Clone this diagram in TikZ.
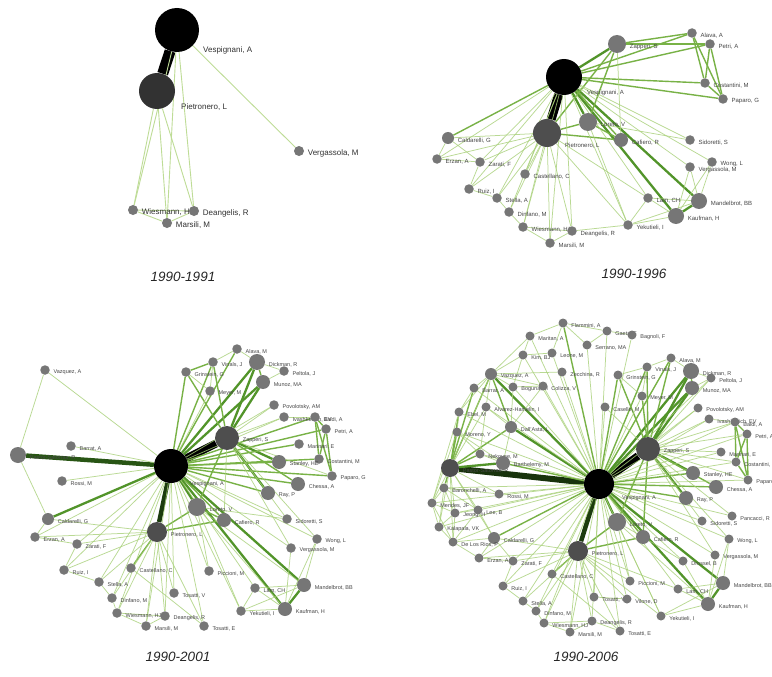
\documentclass[tikz,border=0pt]{standalone}
\usepackage{fontspec}
\setmainfont{Liberation Sans}
\usetikzlibrary{backgrounds,calc}
\definecolor{ga}{RGB}{190,220,150}
\definecolor{g1}{RGB}{168,208,120}
\definecolor{g2}{RGB}{120,178,70}
\definecolor{g3}{RGB}{82,148,42}
\definecolor{g4}{RGB}{40,85,20}
\definecolor{ndg}{RGB}{118,118,118}
\definecolor{ndd}{RGB}{78,78,78}
\definecolor{ndk}{RGB}{50,50,50}
\definecolor{lblc}{RGB}{70,70,70}
\tikzset{
 nd/.style={circle,fill=ndg,inner sep=0,minimum size=9.5pt},
 lbl/.style={anchor=west,inner sep=0,text=lblc,font=\fontsize{5.5}{5.5}\selectfont},
 ea/.style={draw=ga,line width=0.9pt},
 e1/.style={draw=g1,line width=0.75pt,opacity=0.8},
 e2/.style={draw=g2,line width=1.4pt},
 e3/.style={draw=g3,line width=2.3pt},
 e4/.style={draw=g4,line width=4.5pt},
 ek/.style={draw=black,line width=8pt},
 yr/.style={font=\fontsize{13.5}{13.5}\selectfont\itshape,text=black!85,inner sep=0}
}
\newcommand\gnode[5][]{\node[nd,#1] (#2) at (#3,#4) {};\node[lbl] (#2-t) at ([shift={(3.5,2.5)}]#2.east) {#5};}
\begin{document}
\begin{tikzpicture}[x=1pt,y=-1pt]
\begin{scope}[on background layer]
\fill[white] (0,0) rectangle (772,677);
\end{scope}
\useasboundingbox (0,0) rectangle (772,677);

%================ Panel 1 : 1990-1991 ================
\begin{scope}[lbl/.append style={font=\fontsize{8}{8}\selectfont,text=ndk}, nd/.append style={minimum size=10pt}]
\node[nd,fill=black,minimum size=44pt] (aV) at (177,30) {};
\node[lbl] (aV-t) at (203,50) {Vespignani, A};
\node[nd,fill=ndk,minimum size=36pt] (aP) at (157,91) {};
\node[lbl] (aP-t) at (181,107) {Pietronero, L};
\gnode{aVe}{299}{151}{Vergassola, M}
\gnode{aWi}{133}{210}{Wiesmann, HJ}
\gnode{aDe}{194}{211}{Deangelis, R}
\gnode{aMa}{167}{223}{Marsili, M}
\end{scope}
\node[yr] (ya) at (183,277) {1990-1991};
\begin{scope}[on background layer]
\draw[ek,line width=11pt] (aV) -- (aP);
\foreach \a/\b in {aV/aVe,aV/aMa,aV/aDe,aV/aWi,aP/aWi,aP/aMa,aP/aDe,aWi/aMa,aMa/aDe,aWi/aDe}
  \draw[ea] (\a) -- (\b);
\end{scope}

%================ Panel 2 : 1990-1996 ================
\begin{scope}[lbl/.append style={font=\fontsize{6}{6}\selectfont}]
\node[nd,fill=black,minimum size=36pt] (bV) at (564,77) {};
\node[lbl] (bV-t) at (587,93) {Vespignani, A};
\node[nd,fill=ndd,minimum size=28pt] (bP) at (547,133) {};
\node[lbl] (bP-t) at (565,146) {Pietronero, L};
\gnode[minimum size=18pt]{bLo}{588}{122}{Loreto, V}
\gnode[minimum size=18pt]{bZa}{617}{44}{Zapperi, S}
\gnode[minimum size=12pt]{bCa}{448}{138}{Caldarelli, G}
\gnode{bEr}{437}{159}{Erzan, A}
\gnode{bZr}{480}{162}{Zarati, F}
\gnode{bCs}{525}{174}{Castellano, C}
\gnode{bRu}{469}{189}{Ruiz, I}
\gnode{bSt}{497}{198}{Stella, A}
\gnode{bDi}{509}{212}{Dinfano, M}
\gnode{bWi}{523}{227}{Wiesmann, HJ}
\gnode{bDe}{572}{231}{Deangelis, R}
\gnode{bMa}{550}{243}{Marsili, M}
\gnode{bVe}{690}{167}{Vergassola, M}
\gnode{bWo}{712}{162}{Wong, L}
\gnode{bLa}{648}{198}{Lam, CH}
\gnode[minimum size=16pt]{bMb}{699}{201}{Mandelbrot, BB}
\gnode[minimum size=16pt]{bKa}{676}{216}{Kaufman, H}
\gnode{bYe}{628}{225}{Yekutieli, I}
\gnode{bAl}{692}{33}{Alava, A}
\gnode{bPe}{710}{44}{Petri, A}
\gnode{bCo}{705}{83}{Costantini, M}
\gnode{bPa}{723}{99}{Paparo, G}
\gnode[minimum size=14pt]{bCf}{621}{140}{Cafiero, R}
\gnode{bSi}{690}{140}{Sidoretti, S}
\end{scope}
\node[yr] (yb) at (634,274) {1990-1996};
\begin{scope}[on background layer]
\draw[ek,line width=9pt] (bV) -- (bP);
\foreach \a/\b in {bV/bZa,bV/bLo,bV/bMb,bV/bKa,bMb/bKa}
  \draw[e3] (\a) -- (\b);
\foreach \a/\b in {bV/bCa,bV/bCf,bV/bAl,bV/bPe,bV/bCo,bV/bPa,bZa/bAl,bZa/bPe,bAl/bCo,bAl/bPa,bPe/bCo,bPe/bPa,bCo/bPa,bP/bLo,bP/bCf,bLo/bCf,bZa/bLo,bZa/bP}
  \draw[e2] (\a) -- (\b);
\foreach \b in {bEr,bZr,bCs,bRu,bSt,bDi,bWi,bDe,bMa,bSi,bVe,bWo,bLa,bYe}
  \draw[e1] (bV) -- (\b);
\foreach \b in {bCa,bEr,bZr,bCs,bRu,bSt,bDi,bWi,bDe,bMa,bYe,bLa}
  \draw[e1] (bP) -- (\b);
\foreach \a/\b in {bZa/bCf,bLa/bKa,bLa/bMb,bYe/bKa,bYe/bMb,bYe/bLa,bWo/bKa,bWo/bMb,bVe/bKa,bVe/bMb,bCa/bEr,bEr/bZr,bCa/bZr,bZr/bRu,bRu/bSt,bSt/bDi,bDi/bWi,bWi/bMa,bMa/bDe,bWi/bDe,bYe/bDe,bLo/bSi,bLo/bYe}
  \draw[e1] (\a) -- (\b);
\end{scope}

%================ Panel 3 : 1990-2001 ================
\begin{scope}
\node[nd,fill=black,minimum size=34pt] (cV) at (171,466) {};
\node[lbl] (cV-t) at (190,484) {Vespignani, A};
\gnode[fill=ndd,minimum size=24pt]{cZa}{227}{438}{Zapperi, S}
\gnode[fill=ndd,minimum size=20pt]{cP}{157}{532}{Pietronero, L}
\gnode[minimum size=16pt]{cPS}{18}{455}{Pastor-Satorras, R}
\gnode{cVz}{45}{370}{Vazquez, A}
\gnode{cBa}{71}{446}{Barrat, A}
\gnode{cRo}{62}{481}{Rossi, M}
\gnode[minimum size=12pt]{cCa}{48}{519}{Caldarelli, G}
\gnode{cEr}{35}{537}{Erzan, A}
\gnode{cZr}{77}{544}{Zarati, F}
\gnode{cRu}{64}{570}{Ruiz, I}
\gnode{cCs}{131}{568}{Castellano, C}
\gnode{cSt}{99}{582}{Stella, A}
\gnode{cDi}{112}{598}{Dinfano, M}
\gnode{cWi}{117}{613}{Wiesmann, HJ}
\gnode{cDe}{165}{616}{Deangelis, R}
\gnode{cMa}{146}{626}{Marsili, M}
\gnode{cTV}{174}{593}{Tosatti, V}
\gnode[minimum size=18pt]{cLo}{197}{507}{Loreto, V}
\gnode[minimum size=14pt]{cCf}{224}{520}{Cafiero, R}
\gnode{cSi}{287}{519}{Sidoretti, S}
\gnode{cWo}{317}{539}{Wong, L}
\gnode{cVe}{291}{548}{Vergassola, M}
\gnode{cPi}{209}{571}{Piccioni, M}
\gnode{cLa}{255}{588}{Lam, CH}
\gnode[minimum size=14pt]{cMb}{304}{585}{Mandelbrot, BB}
\gnode[minimum size=14pt]{cKa}{285}{609}{Kaufman, H}
\gnode{cYe}{241}{611}{Yekutieli, I}
\gnode{cTE}{204}{626}{Tosatti, E}
\gnode[minimum size=14pt]{cRa}{268}{493}{Ray, P}
\gnode[minimum size=14pt]{cCh}{298}{484}{Chessa, A}
\gnode{cPa}{332}{476}{Paparo, G}
\gnode{cAl}{237}{349}{Alava, M}
\gnode{cVi}{213}{362}{Vinals, J}
\gnode{cGr}{186}{372}{Grinstein, G}
\gnode[minimum size=16pt]{cDk}{257}{362}{Dickman, R}
\gnode{cPl}{284}{371}{Peltola, J}
\gnode[minimum size=14pt]{cMu}{263}{382}{Munoz, MA}
\gnode{cMo}{210}{391}{Meyer, M}
\gnode{cPv}{274}{405}{Povolotsky, AM}
\gnode{cIv}{284}{417}{Ivashkevich, EV}
\gnode{cBd}{315}{417}{Baldi, A}
\gnode{cPe}{326}{429}{Petri, A}
\gnode{cMr}{299}{444}{Marinari, E}
\gnode{cCo}{319}{459}{Costantini, M}
\gnode[minimum size=14pt]{cSn}{279}{462}{Stanley, HE}
\end{scope}
\node[yr] (yc) at (178,657) {1990-2001};
\begin{scope}[on background layer]
\draw[ek] (cV) -- (cZa);
\draw[e4,draw=g4!70!black] (cV) -- (cP);
\draw[e4] (cV) -- (cPS);
\foreach \a/\b in {cV/cLo,cV/cDk,cV/cMu,cZa/cDk,cZa/cMu,cZa/cSn,cZa/cRa,cV/cMb,cV/cKa,cV/cCa,cMb/cKa}
  \draw[e3] (\a) -- (\b);
\foreach \a/\b in {cV/cAl,cV/cVi,cV/cGr,cZa/cVi,cZa/cGr,cDk/cMu,cGr/cVi,cV/cBd,cV/cPe,cV/cMr,cV/cCo,cV/cSn,cV/cPa,cV/cCh,cV/cRa,cZa/cCh,cBd/cPe,cBd/cCo,cBd/cPa,cPe/cCo,cPe/cPa,cLo/cCf,cV/cCf,cP/cCf,cLo/cP,cZa/cLo,cP/cCs}
  \draw[e2] (\a) -- (\b);
\foreach \b in {cVz,cBa,cRo,cEr,cZr,cRu,cSt,cDi,cWi,cMa,cDe,cTV,cTE,cSi,cWo,cVe,cLa,cYe,cPi,cMo,cPv,cIv}
  \draw[e1] (cV) -- (\b);
\foreach \b in {cCa,cEr,cZr,cRu,cSt,cDi,cWi,cMa,cDe,cTE,cTV}
  \draw[e1] (cP) -- (\b);
\foreach \a/\b in {cVz/cPS,cPS/cCa,cVi/cAl,cDk/cPl,cMu/cPl,cDk/cAl,cGr/cMo,cVi/cMo,cZa/cPv,cZa/cIv,cIv/cBd,cZa/cCf,cLa/cKa,cLa/cMb,cYe/cKa,cYe/cMb,cYe/cLa,cWo/cKa,cWo/cMb,cVe/cKa,cCa/cEr,cEr/cZr,cZr/cRu,cRu/cSt,cSt/cDi,cDi/cWi,cWi/cMa,cMa/cDe,cWi/cDe,cPi/cLo,cZa/cSi,cLo/cSi,cZa/cWo,cZa/cVe,cLo/cMb,cLo/cKa,cLo/cYe,cZa/cPa,cCs/cTE}
  \draw[e1] (\a) -- (\b);
\end{scope}

%================ Panel 4 : 1990-2006 ================
\begin{scope}[nd/.append style={minimum size=9pt}]
\node[nd,fill=black,minimum size=30pt] (dV) at (599,484) {};
\node[lbl] (dV-t) at (622,498) {Vespignani, A};
\gnode[fill=ndd,minimum size=24pt]{dZa}{648}{449}{Zapperi, S}
\gnode[fill=ndd,minimum size=20pt]{dP}{578}{551}{Pietronero, L}
\gnode[fill=ndd,minimum size=18pt]{dPS}{450}{468}{Pastor-Satorras, R}
\gnode{dFl}{563}{323}{Flammini, A}
\gnode{dMt}{530}{336}{Maritan, A}
\gnode{dKi}{523}{355}{Kim, BJ}
\gnode{dLe}{552}{353}{Leone, M}
\gnode{dZe}{562}{372}{Zecchina, R}
\gnode[minimum size=12pt]{dVz}{491}{374}{Vazquez, A}
\gnode{dBr}{474}{388}{Barrat, A}
\gnode{dBo}{513}{387}{Boguna, M}
\gnode{dCz}{543}{386}{Colizza, V}
\gnode{dEb}{459}{412}{Ebel, M}
\gnode{dAH}{486}{407}{Alvarez-Hamelin, I}
\gnode{dMo}{457}{432}{Moreno, Y}
\gnode[minimum size=12pt]{dDA}{511}{427}{Dall'Asta, L}
\gnode{dNe}{480}{454}{Nekovee, M}
\gnode[minimum size=14pt]{dBt}{503}{463}{Barthelemy, M}
\gnode{dGa}{607}{331}{Gaeta, F}
\gnode{dBg}{632}{335}{Bagnoli, F}
\gnode{dSe}{587}{345}{Serrano, MA}
\gnode{dAl}{671}{358}{Alava, M}
\gnode{dVi}{647}{367}{Vinals, J}
\gnode{dGr}{618}{375}{Grinstein, G}
\gnode[minimum size=16pt]{dDk}{691}{371}{Dickman, R}
\gnode{dPl}{711}{378}{Peltola, J}
\gnode[minimum size=14pt]{dMu}{692}{388}{Munoz, MA}
\gnode{dMe}{642}{396}{Meyer, M}
\gnode{dCe}{605}{407}{Caselle, M}
\gnode{dPv}{698}{408}{Povolotsky, AM}
\gnode{dIv}{709}{419}{Ivashkevich, EV}
\gnode{dBd}{735}{422}{Baldi, A}
\gnode{dPe}{747}{434}{Petri, A}
\gnode{dMr}{721}{452}{Marinari, E}
\gnode{dCo}{736}{462}{Costantini, M}
\gnode[minimum size=14pt]{dSn}{693}{473}{Stanley, HE}
\gnode{dPa}{748}{480}{Paparo, G}
\gnode[minimum size=14pt]{dCh}{716}{487}{Chessa, A}
\gnode[minimum size=14pt]{dRa}{686}{498}{Ray, P}
\gnode{dPc}{732}{516}{Pancacci, R}
\gnode{dSi}{702}{521}{Sidoretti, S}
\gnode[minimum size=18pt]{dLo}{617}{522}{Loreto, V}
\gnode[minimum size=14pt]{dCf}{643}{537}{Cafiero, R}
\gnode{dWo}{729}{539}{Wong, L}
\gnode{dVe}{715}{555}{Vergassola, M}
\gnode{dDr}{683}{561}{Drossel, B}
\gnode[minimum size=12pt]{dCa}{494}{538}{Caldarelli, G}
\gnode{dEr}{479}{558}{Erzan, A}
\gnode{dZr}{513}{561}{Zarati, F}
\gnode{dCs}{552}{574}{Castellano, C}
\gnode{dRu}{503}{586}{Ruiz, I}
\gnode{dPi}{630}{581}{Piccioni, M}
\gnode{dLa}{678}{589}{Lam, CH}
\gnode[minimum size=14pt]{dMb}{723}{583}{Mandelbrot, BB}
\gnode[minimum size=14pt]{dKa}{708}{604}{Kaufman, H}
\gnode{dSt}{523}{601}{Stella, A}
\gnode{dDi}{536}{611}{Dinfano, M}
\gnode{dTV}{594}{597}{Tosatti, V}
\gnode{dVl}{627}{599}{Vilone, D}
\gnode{dYe}{661}{616}{Yekutieli, I}
\gnode{dWi}{544}{623}{Wiesmann, HJ}
\gnode{dDe}{592}{621}{Deangelis, R}
\gnode{dMa}{570}{632}{Marsili, M}
\gnode{dTE}{620}{631}{Tosatti, E}
\gnode{dBc}{444}{488}{Baronchelli, A}
\gnode{dRo}{499}{494}{Rossi, M}
\gnode{dMd}{432}{503}{Mendes, JF}
\gnode{dJe}{455}{513}{Jeong, H}
\gnode{dLb}{478}{510}{Lee, B}
\gnode{dKl}{439}{527}{Kalapala, VK}
\gnode{dDL}{453}{542}{De Los Rios, P}
\end{scope}
\node[yr] (yd) at (586,657) {1990-2006};
\begin{scope}[on background layer]
\draw[ek] (dV) -- (dZa);
\draw[e4,line width=6pt,draw=g4!60!black] (dV) -- (dPS);
\draw[e4,draw=g4!70!black] (dV) -- (dP);
\foreach \a/\b in {dV/dLo,dV/dDk,dV/dMu,dV/dMb,dV/dKa,dV/dVz,dV/dDA,dZa/dDk,dZa/dMu,dZa/dSn,dZa/dRa,dPS/dBt,dMb/dKa}
  \draw[e3] (\a) -- (\b);
\foreach \a/\b in {dV/dCa,dV/dCf,dV/dCh,dV/dRa,dV/dSn,dV/dAl,dV/dVi,dV/dGr,dV/dBt,dV/dFl,dZa/dCh,dZa/dAl,dZa/dVi,dZa/dGr,dZa/dMe,dZa/dLo,dZa/dCf,dP/dCs,dP/dCf,dP/dLo,dPS/dDA,dPS/dNe,dPS/dVz,dPS/dMo,dPS/dEb,dPS/dBr,dPS/dBc,dBd/dPe,dBd/dCo,dBd/dPa,dPe/dCo,dPe/dPa,dCo/dPa,dDk/dMu,dVz/dDA}
  \draw[e2] (\a) -- (\b);
\foreach \b in {dMt,dKi,dLe,dZe,dBr,dBo,dCz,dEb,dAH,dMo,dNe,dGa,dBg,dSe,dPl,dMe,dCe,dPv,dIv,dBd,dPe,dMr,dCo,dPa,dPc,dSi,dWo,dVe,dDr,dEr,dZr,dCs,dRu,dPi,dLa,dYe,dSt,dDi,dTV,dVl,dWi,dDe,dMa,dTE,dBc,dRo,dMd,dJe,dLb,dKl,dDL}
  \draw[e1] (dV) -- (\b);
\foreach \b in {dCa,dEr,dZr,dRu,dSt,dDi,dWi,dMa,dDe,dTE,dTV,dPi,dYe,dLa,dVl}
  \draw[e1] (dP) -- (\b);
\foreach \b in {dPv,dIv,dMr,dCo,dPe,dBd,dPl,dCe,dPa,dSi,dPc,dWo,dVe}
  \draw[e1] (dZa) -- (\b);
\foreach \b in {dMd,dJe,dKl,dDL,dCa,dLb,dAH,dRo,dVz}
  \draw[e1] (dPS) -- (\b);
\foreach \a/\b in {dIv/dBd,dDk/dPl,dMu/dPl,dDk/dAl,dAl/dVi,dVi/dGr,dGr/dMe,dVi/dMe,dLa/dKa,dLa/dMb,dYe/dKa,dYe/dMb,dWo/dKa,dWo/dMb,dVe/dKa,dDr/dKa,dCa/dEr,dEr/dZr,dZr/dRu,dRu/dSt,dSt/dDi,dDi/dWi,dWi/dMa,dMa/dDe,dWi/dDe,dTE/dDe,dTV/dVl,dVz/dMt,dMt/dFl,dFl/dSe,dVz/dKi,dKi/dLe,dLe/dFl,dVz/dBr,dVz/dBo,dBo/dCz,dBo/dDA,dCz/dDA,dKi/dBo,dMt/dKi,dVz/dAH,dAH/dDA,dAH/dNe,dEb/dMo,dBr/dEb,dMo/dNe,dMo/dBt,dNe/dBt,dDA/dBt,dVz/dEb,dFl/dGa,dGa/dBg,dSe/dGa,dBc/dMd,dMd/dKl,dKl/dDL,dDL/dCa,dJe/dLb,dBc/dJe,dMd/dJe,dKl/dJe,dDL/dLb,dLb/dCa,dBc/dRo,dEr/dDL,dMd/dDL,dBc/dLb,dMd/dMo,dMd/dEb,dKl/dBc,dDL/dJe,dCa/dZr,dLo/dCf,dLo/dPi,dCs/dTE,dLo/dYe,dLo/dKa,dCf/dDr,dVz/dZe,dVz/dCz}
  \draw[e1] (\a) -- (\b);
\end{scope}
\end{tikzpicture}
\end{document}
